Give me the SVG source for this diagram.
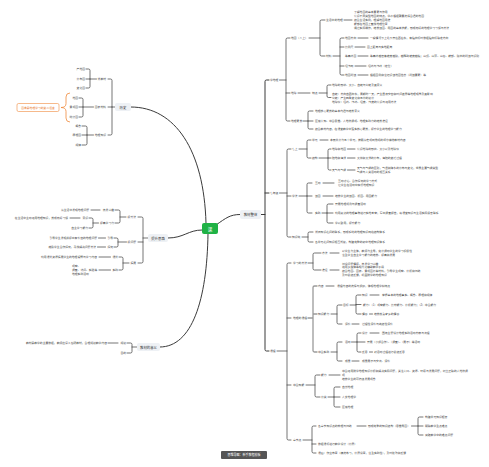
<svg xmlns="http://www.w3.org/2000/svg" width="489" height="467" viewBox="0 0 489 467">
<style>
.t{font-family:"Noto Sans CJK SC","Noto Sans",sans-serif;font-size:2.8px;fill:#444;dominant-baseline:central}
.e{text-anchor:end}
.m{text-anchor:middle}
.h{font-size:3.4px;fill:#333}
.b{fill:#eef1f5}
.k{fill:none;stroke:#3a3a3a;stroke-width:0.7;stroke-linecap:round;stroke-linejoin:round}
.k1{stroke-width:1}
.g{stroke:#9a9a9a;stroke-width:1.3}
.o{fill:none;stroke:#f08a3c;stroke-width:0.8}
</style>
<rect width="489" height="467" fill="#fff"/>
<g id="connectors">
<path class="k k1" d="M206,223 C204,150 175,107 131,107"/>
<path class="k k1" d="M202,230 C188,230 184,238 168,238"/>
<path class="k k1" d="M208,234 C207,300 192,347 160,347"/>
<path class="k k1" d="M216,225 C226,218 230,214.5 240,214.5"/>
<path class="k k1" d="M261,214.5H265 M269,80H266.5Q265,80 265,81.5V349.5Q265,351 266.5,351H269 M265,193H269"/>
<path class="k" d="M279.5,80H286 M290,38H287.5Q286,38 286,39.5V119.5Q286,121 287.5,121H290 M286,93H290"/>
<path class="k" d="M309,38H320 M325,20H321.5Q320,20 320,21.5V54.5Q320,56 321.5,56H325"/>
<path class="k" d="M344,20H352"/>
<path class="k" d="M333,56H340 M344,38H341.5Q340,38 340,39.5V73.5Q340,75 341.5,75H344 M340,47H344 M340,66H344"/>
<path class="k" d="M358,38H368 M355,47H365 M358,56H368 M355,66H366 M358,75H368"/>
<path class="k" d="M298,93H310 M319,93H327 M331,85H328.5Q327,85 327,86.5V96Q327,97.5 328.5,97.5H331"/>
<path class="k" d="M303,121H308 M313,111H309.5Q308,111 308,112.5V127.5Q308,129 309.5,129H313 M308,121H313"/>
<path class="k" d="M279.5,193H287 M291,149H288.5Q287,149 287,150.5V235.5Q287,237 288.5,237H291 M287,196H291"/>
<path class="k" d="M299,149H307 M311,140H308.5Q307,140 307,141.5V156.5Q307,158 308.5,158H311"/>
<path class="k" d="M320,140H328 M319,158H328 M331,149H329.5Q328,149 328,150.5V168.5Q328,170 329.5,170H331 M328,158H331"/>
<path class="k" d="M347.5,149H355 M347.5,158H355 M347.5,170H355"/>
<path class="k" d="M299,196H307 M312,183H308.5Q307,183 307,184.5V211.5Q307,213 308.5,213H312 M307,196H312"/>
<path class="k" d="M323,183H334 M323,196H333"/>
<path class="k" d="M322,213H327 M333,204H328.5Q327,204 327,205.5V221.5Q327,223 328.5,223H333 M327,213H333"/>
<path class="k" d="M302,237H308 M313,232H309.5Q308,232 308,233.5V240.5Q308,242 309.5,242H313"/>
<path class="k" d="M277,351H287 M291,263H288.5Q287,263 287,264.5V438.5Q287,440 288.5,440H291 M287,318H291 M287,385H291"/>
<path class="k" d="M308,263H313 M321,253H314.5Q313,253 313,254.5V268.5Q313,270 314.5,270H321"/>
<path class="k" d="M330,253H339 M330,270H339"/>
<path class="k g" d="M308,318H313 M317,286H314.5Q313,286 313,287.5V350.5Q313,352 314.5,352H317 M313,314H317"/>
<path class="k" d="M326,286H334"/>
<path class="k" d="M331,314H337 M342,305H338.5Q337,305 337,306.5V322.5Q337,324 338.5,324H342"/>
<path class="k" d="M350,305H356 M361,295H357.5Q356,295 356,296.5V312.5Q356,314 357.5,314H361 M356,304.5H361"/>
<path class="k" d="M370,295H379 M369.5,314H372.5 M352,324H359"/>
<path class="k" d="M331,352H337 M342,342H338.5Q337,342 337,343.5V359.5Q337,361 338.5,361H342"/>
<path class="k" d="M351.5,342H357 M361,333H358.5Q357,333 357,334.5V350.5Q357,352 358.5,352H361 M357,342H365"/>
<path class="k" d="M370,333H379 M369.5,352H372.5 M352,361H359"/>
<path class="k" d="M306,385H315 M320,375H316.5Q315,375 315,376.5V395.5Q315,397 316.5,397H320"/>
<path class="k" d="M329,375H340"/>
<path class="k" d="M328,397H334 M340,387H335.5Q334,387 334,388.5V405.5Q334,407 335.5,407H340 M334,397H340"/>
<path class="k" d="M303,440H312 M316,426H313.5Q312,426 312,427.5V451.5Q312,453 313.5,453H316 M312,444H316"/>
<path class="k" d="M357,426H366 M411.5,426H418 M423,417H419.5Q418,417 418,418.5V433.5Q418,435 419.5,435H423 M418,426H423"/>
<path class="k" d="M115,107H112 M108,79H110.5Q112,79 112,80.5V133.5Q112,135 110.5,135H108 M112,107H108"/>
<path class="k" d="M96.5,79H90 M86,69H88.5Q90,69 90,70.5V86.5Q90,88 88.5,88H86 M90,79H86"/>
<path class="k" d="M93.5,107H83 M79,98H81.5Q83,98 83,99.5V115.5Q83,117 81.5,117H79 M83,107H79"/>
<path class="k" d="M93.5,135H87 M82,126H85.5Q87,126 87,127.5V143.5Q87,145 85.5,145H82 M87,135H82"/>
<path class="k" d="M148,238H143 M138,217H141.5Q143,217 143,218.5V261.5Q143,263 141.5,263H138 M143,242H138"/>
<path class="k" d="M126,217H120 M115,210H118.5Q120,210 120,211.5V221.5Q120,223 118.5,223H115"/>
<path class="k" d="M100,210H91"/>
<path class="k" d="M98.5,223H93 M89,218H91.5Q93,218 93,219.5V226.5Q93,228 91.5,228H89"/>
<path class="k" d="M80,218H70"/>
<path class="k" d="M126.5,242H118 M114,238H116.5Q118,238 118,239.5V245.5Q118,247 116.5,247H114"/>
<path class="k" d="M105.5,238H98.5 M105.5,247H97.5"/>
<path class="k" d="M129,263H123 M119,257H121.5Q123,257 123,258.5V268.5Q123,270 121.5,270H119"/>
<path class="k" d="M110.5,257H99 M110.5,270H99"/>
<path class="k" d="M137,347H132 M127,343H130.5Q132,343 132,344.5V351.5Q132,353 130.5,353H127"/>
<path class="k" d="M118,343H108"/>
</g>
<g id="center"><rect x="202" y="223" width="16" height="11" rx="2" fill="#1fb245"/><text class="t m" x="210" y="228.5" style="fill:#fff;font-size:4.5px">课</text></g>
<g id="n-right"><rect class="b" x="240" y="210" width="21" height="9" rx="2"/><text class="t h m" x="250.5" y="214.5">教材整体</text></g>
<g id="n-history"><rect class="b" x="115" y="103" width="16" height="8" rx="2"/><text class="t h m" x="123" y="107">历史</text></g>
<g id="n-improve"><rect class="b" x="148" y="234" width="20" height="8" rx="2"/><text class="t h m" x="158" y="238">提升思路</text></g>
<g id="n-meaning"><rect class="b" x="137" y="343" width="23" height="8" rx="2"/><text class="t h m" x="148.5" y="347">教材的意义</text></g>
<g id="n-xuedili"><text class="t" x="270" y="80">学地理</text></g>
<g id="n-map"><text class="t" x="291" y="38">地图（八上）</text></g>
<g id="n-life"><text class="t" x="326" y="20">生活中的地理</text></g>
<g id="n-life-txt">
<text class="t" x="354" y="11.6">了解地图的基本要素与作用</text>
<text class="t" x="354" y="15.8">认识不同类型地图的特点，学会根据需要选择合适的地图</text>
<text class="t" x="354" y="20">结合生活实例，理解地图用途</text>
<text class="t" x="354" y="24.2">能够在地图上查找地理位置</text>
<text class="t" x="354" y="28.4">通过实际操作，培养读图、用图的基本技能，形成良好的地理学习习惯与方法</text>
</g>
<g id="n-cailiao"><text class="t" x="326" y="56">材料</text></g>
<g id="n-c1"><text class="t" x="345" y="38">地图方向</text><text class="t" x="370" y="38">一般情况下上北下南左西右东，有指向标时依据指向标确定方向</text></g>
<g id="n-c2"><text class="t" x="345" y="47">比例尺</text><text class="t" x="367" y="47">图上距离与实地距离</text></g>
<g id="n-c3"><text class="t" x="345" y="56">等高线图</text><text class="t" x="370" y="56">等高线越密集坡度越陡，越稀疏坡度越缓；山顶、山脊、山谷、鞍部、陡崖的判读与识别</text></g>
<g id="n-c4"><text class="t" x="345" y="66">经纬网</text><text class="t" x="368" y="66">经线与纬线（定位）</text></g>
<g id="n-c5"><text class="t" x="345" y="75">地图判读</text><text class="t" x="370" y="75">根据图例和注记识读地图信息（判读要素）等</text></g>
<g id="n-earth"><text class="t" x="291" y="93">地球</text></g>
<g id="n-tedian"><text class="t" x="312" y="93">特点</text></g>
<g id="n-td1"><text class="t" x="332" y="85">地球的形状、大小、自转与公转及其意义</text></g>
<g id="n-td2">
<text class="t" x="332" y="93.5">自转：方向自西向东，周期约一天，产生昼夜交替和时间差异等地理现象及其影响</text>
<text class="t" x="332" y="97.5">公转：产生四季变化和五带的划分</text>
<text class="t" x="332" y="101.5">地球仪：经线、纬线、经度、纬度的认识与运用方法</text>
</g>
<g id="n-suyang"><text class="t" x="291" y="121">地理素养</text></g>
<g id="n-sy-txt">
<text class="t" x="315" y="111">地理核心素养的基本内涵与培养意义</text>
<text class="t" x="315" y="121">区域认知、综合思维、人地协调观、地理实践力的培养途径</text>
<text class="t" x="315" y="129">结合教材内容，在课堂教学中落实核心素养，提升学生的地理学习能力</text>
</g>
<g id="n-qinianji"><text class="t" x="270" y="193">七年级</text></g>
<g id="n-qishang"><text class="t" x="292" y="149">七上</text></g>
<g id="n-danyuan"><text class="t" x="312" y="140">单元</text><text class="t" x="330" y="140">本册共分为五个单元，按照从宏观到微观的顺序编排教材内容</text></g>
<g id="n-jiegou"><text class="t" x="312" y="158">结构</text></g>
<g id="n-j1"><text class="t" x="332" y="149">地球和地图</text><text class="t" x="357" y="149">认识地球的形状、大小以及地球仪</text></g>
<g id="n-j2"><text class="t" x="332" y="158">陆地和海洋</text><text class="t" x="357" y="158">大洲和大洋的分布，海陆的变迁过程</text></g>
<g id="n-j3"><text class="t" x="332" y="170">天气与气候</text><text class="t" x="357" y="167.9">天气与气候的区别，气温和降水的分布与变化，世界主要气候类型</text><text class="t" x="357" y="172.1">气候与人类活动的相互关系</text></g>
<g id="n-xuefa"><text class="t" x="292" y="196">学法</text></g>
<g id="n-x1"><text class="t" x="315" y="183">互动</text><text class="t" x="338" y="181.1">互动讨论、合作探究的学习方式</text><text class="t" x="338" y="184.9">让学生在活动中获得地理知识</text></g>
<g id="n-x2"><text class="t" x="315" y="196">读图</text><text class="t" x="335" y="196">培养学生的读图、析图、用图能力</text></g>
<g id="n-x3"><text class="t" x="315" y="213">实践</text></g>
<g id="n-x3-txt">
<text class="t" x="335" y="204">开展地理观测与调查活动</text>
<text class="t" x="335" y="213">利用身边的地理事物进行实地考察，写出调查报告，将课堂知识与生活实际紧密联系</text>
<text class="t" x="335" y="223">学以致用，提升能力</text>
</g>
<g id="n-zhishilian"><text class="t" x="292" y="237">知识链</text><text class="t" x="315" y="232">新旧知识之间的联系，形成系统的地理知识网络结构体系</text><text class="t" x="315" y="242">各单元之间知识相互衔接，构建完整的初中地理知识体系</text></g>
<g id="n-kecheng"><text class="t" x="270" y="351">课程</text></g>
<g id="n-xxff"><text class="t" x="293" y="263">学习的方法</text></g>
<g id="n-ff1"><text class="t" x="322" y="253">方法</text><text class="t" x="342" y="251.2">以学生为主体，教师为主导，充分调动学生的学习积极性</text><text class="t" x="342" y="255">注重学生自主学习能力的培养、提高和发展</text></g>
<g id="n-ff2"><text class="t" x="322" y="270">途径</text>
<text class="t" x="342" y="263.8">创设问题情境，激发学习兴趣</text>
<text class="t" x="342" y="267.4">运用多媒体等现代化辅助教学手段</text>
<text class="t" x="342" y="271">结合地图、图表、景观图片等材料，引导学生观察、分析和归纳</text>
<text class="t" x="342" y="274.6">及时总结反馈，巩固所学的地理知识</text>
</g>
<g id="n-dlkc"><text class="t" x="293" y="318">地理的课程</text></g>
<g id="n-neirong"><text class="t" x="318" y="286">内容</text><text class="t" x="337" y="286">课程内容的选择与组织，体现地理学科特点</text></g>
<g id="n-zsnl"><text class="t" x="318" y="314">知识能力</text></g>
<g id="n-mubiao"><text class="t" x="343" y="305">目标</text></g>
<g id="n-mb1"><text class="t" x="362" y="295">知识</text><text class="t" x="382" y="295">掌握基本的地理事实、概念、原理和规律</text></g>
<g id="n-mb2"><text class="t" x="363" y="304.5">能力：（1）观察能力、比较能力、分析能力；（2）综合能力</text></g>
<g id="n-mb3"><text class="t" x="362" y="314">情感</text><text class="t" x="374" y="314">培养热爱家乡的情感</text></g>
<g id="n-pingjia"><text class="t" x="345" y="324">评价</text><text class="t" x="362" y="324">过程性评价与终结性评价</text></g>
<g id="n-zhsj"><text class="t" x="318" y="352">综合实践</text></g>
<g id="n-huodong"><text class="t" x="345" y="342">活动</text></g>
<g id="n-hd1"><text class="t" x="362" y="333">设计</text><text class="t" x="382" y="333">围绕主题设计地理实践活动方案与流程</text></g>
<g id="n-hd2"><text class="t" x="367" y="342">开展（小组合作）、（调查）、（展示）等活动</text></g>
<g id="n-hd3"><text class="t" x="362" y="352">反思</text><text class="t" x="374" y="352">对活动过程进行总结反思</text></g>
<g id="n-chengguo"><text class="t" x="345" y="361">成果</text><text class="t" x="362" y="361">成果展示与交流、评价</text></g>
<g id="n-zhzn"><text class="t" x="293" y="385">综合知能</text></g>
<g id="n-nengli"><text class="t" x="321" y="375">能力</text>
<text class="t" x="342" y="371.4">综合运用所学地理知识分析和解决实际问题，关注人口、资源、环境与发展问题，树立正确的人地协调</text>
<text class="t" x="342" y="375">观</text>
<text class="t" x="342" y="378.6">培养学生的可持续发展观念</text>
</g>
<g id="n-fenlei"><text class="t" x="321" y="397">分类</text><text class="t" x="342" y="387">自然地理</text><text class="t" x="342" y="397">人文地理学</text><text class="t" x="342" y="407">区域地理</text></g>
<g id="n-zjd"><text class="t" x="293" y="440">章节点</text></g>
<g id="n-zj1"><text class="t" x="318" y="426">各章节知识点的梳理与归纳</text></g>
<g id="n-zj1b"><text class="t" x="368" y="426">形成完整的知识结构（思维导图）</text></g>
<g id="n-zj1c"><text class="t" x="425" y="417">构建单元知识框架</text><text class="t" x="425" y="426">明确教学重点难点</text><text class="t" x="425" y="435">突破教学中的难点问题</text></g>
<g id="n-zj2"><text class="t" x="318" y="444">依据课标进行教学设计（分层）</text></g>
<g id="n-zj3"><text class="t" x="318" y="453">课后：作业布置（精选练习，分层设置，注重实践性），及时批改和反馈</text></g>
<g id="n-l-xjc"><text class="t e" x="106" y="79">新教材</text><text class="t e" x="85" y="69">产地图</text><text class="t e" x="85" y="79">分布图</text><text class="t e" x="85" y="88">变化图</text></g>
<g id="n-l-tb"><text class="t e" x="106" y="107">图表材料</text><text class="t e" x="78" y="98">地图</text><text class="t e" x="78" y="107">景观图</text><text class="t e" x="78" y="117">统计图</text></g>
<g id="callout"><path class="o" d="M70,93 Q66,93 66,97 V103.5 Q66,107.5 61,107.5 Q66,107.5 66,111.5 V118 Q66,122 70,122"/><rect x="17" y="103.5" width="42" height="8" rx="1.5" fill="#fff" stroke="#f08a3c" stroke-width="0.6"/><text class="t m" x="38" y="107.5" style="fill:#e8731a">图像是地理学习的第二语言</text></g>
<g id="n-l-dlzs"><text class="t e" x="106" y="135">地理知识</text><text class="t e" x="81" y="126">概念</text><text class="t e" x="81" y="135">原理图</text><text class="t e" x="81" y="145">规律</text></g>
<g id="n-l-tsf"><text class="t e" x="136" y="217">提升法</text></g>
<g id="n-l-jfxq"><text class="t e" x="114" y="210">激发兴趣</text><text class="t e" x="89" y="210">从生活中发现地理问题</text></g>
<g id="n-l-tgxx"><text class="t e" x="114" y="223">提高学习力</text></g>
<g id="n-l-ys"><text class="t e" x="88" y="218">意识</text><text class="t e" x="68" y="218">在生活中主动运用地理知识，养成良好习惯</text></g>
<g id="n-l-zz"><text class="t e" x="88" y="228">自主学习能力</text></g>
<g id="n-l-twt"><text class="t e" x="136" y="242">提问题</text></g>
<g id="n-l-yd"><text class="t e" x="113" y="238">引导</text><text class="t e" x="97" y="238">引导学生发现并提出有价值的地理问题</text></g>
<g id="n-l-tj"><text class="t e" x="113" y="247">探究</text><text class="t e" x="96" y="247">鼓励学生合作探究，寻找解决问题方法</text></g>
<g id="n-l-tz"><text class="t e" x="136" y="263">拓展</text></g>
<g id="n-l-kw"><text class="t e" x="118" y="257">课外</text><text class="t e" x="97" y="257">利用课外资源拓展学生的地理视野与学习内容</text></g>
<g id="n-l-sj"><text class="t e" x="118" y="270">实践</text><text class="t" x="72" y="266.4">观察、</text><text class="t" x="72" y="270">调查、访问、实验等</text><text class="t" x="72" y="273.6">地理实践活动</text></g>
<g id="n-l-gh"><text class="t e" x="126" y="343">规划</text><text class="t e" x="107" y="343">教材是教学的主要依据，教师应深入钻研教材，合理规划教学内容</text></g>
<g id="n-l-md"><text class="t e" x="126" y="353">目的</text></g>
<g id="watermark"><rect x="221" y="451" width="46" height="8" rx="1" fill="#555"/><text class="t m" x="244" y="455" style="fill:#fff;font-size:3px">思维导图：新手教程模板</text></g>
</svg>
